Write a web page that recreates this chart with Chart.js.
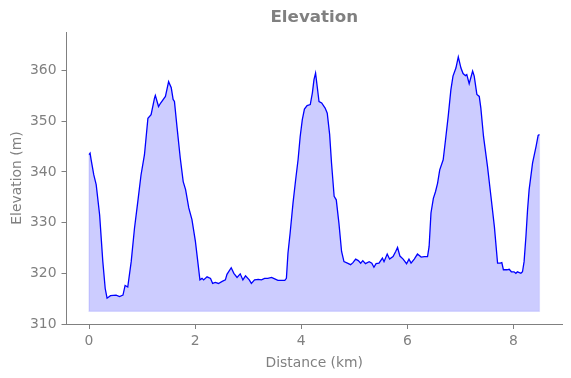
<!DOCTYPE html>
<html>
<head>
<meta charset="utf-8">
<script src="https://cdn.jsdelivr.net/npm/chart.js@4"></script>
<style>
  html, body { margin: 0; padding: 0; background: #ffffff; }
  #wrap { width: 571px; height: 378px; }
</style>
</head>
<body>
<div id="wrap"><canvas id="c" width="571" height="378"></canvas></div>
<script>
const distanceKm = [0.00,0.02,0.04,0.09,0.135,0.20,0.26,0.305,0.34,0.405,0.51,0.575,0.64,0.68,0.73,0.795,0.857,0.92,0.98,1.045,1.11,1.17,1.235,1.25,1.31,1.35,1.44,1.50,1.55,1.585,1.61,1.66,1.72,1.775,1.82,1.88,1.94,2.005,2.05,2.09,2.13,2.16,2.225,2.29,2.33,2.38,2.44,2.51,2.57,2.60,2.68,2.73,2.79,2.85,2.90,2.95,3.02,3.06,3.12,3.19,3.25,3.31,3.37,3.44,3.50,3.56,3.63,3.69,3.72,3.75,3.79,3.845,3.895,3.94,3.98,4.02,4.06,4.11,4.17,4.21,4.24,4.27,4.30,4.335,4.385,4.45,4.49,4.535,4.57,4.62,4.66,4.71,4.76,4.805,4.87,4.93,4.975,5.025,5.075,5.12,5.16,5.21,5.28,5.33,5.37,5.41,5.465,5.53,5.56,5.62,5.665,5.73,5.78,5.815,5.86,5.92,5.985,6.03,6.07,6.13,6.19,6.26,6.32,6.38,6.41,6.445,6.49,6.53,6.57,6.61,6.675,6.72,6.77,6.82,6.86,6.915,6.96,7.01,7.05,7.095,7.12,7.165,7.23,7.26,7.31,7.355,7.385,7.435,7.51,7.575,7.64,7.70,7.75,7.78,7.81,7.875,7.92,7.96,8.01,8.045,8.075,8.14,8.17,8.20,8.235,8.265,8.295,8.36,8.425,8.465,8.49];
const elevationM = [343.4,343.7,342.4,339.4,337.5,331.5,322.3,317.0,315.1,315.6,315.7,315.4,315.7,317.6,317.3,322.3,328.9,334.2,339.4,343.4,350.6,351.3,354.6,355.1,352.9,353.6,354.9,357.8,356.6,354.3,353.9,348.7,342.7,338.1,336.5,332.9,330.6,326.3,322.3,318.7,319.0,318.7,319.3,319.0,318.0,318.2,318.0,318.4,318.7,319.8,321.1,320.0,319.2,319.9,318.7,319.5,318.7,318.0,318.7,318.8,318.7,319.0,319.0,319.2,318.9,318.6,318.6,318.6,319.0,324.0,327.9,333.9,338.5,342.4,347.0,350.3,352.4,353.1,353.3,355.6,358.2,359.5,356.9,353.9,353.6,352.6,351.6,347.4,341.8,335.2,334.5,329.9,324.3,322.3,322.0,321.7,322.1,322.8,322.5,322.0,322.5,321.9,322.3,322.0,321.2,321.9,322.0,323.0,322.3,323.8,322.8,323.3,324.3,325.1,323.4,322.8,321.9,322.8,322.0,322.8,323.8,323.2,323.3,323.3,325.3,331.9,334.8,336.1,337.8,340.4,342.4,346.4,351.0,356.2,358.9,360.5,362.7,360.5,359.4,359.0,359.2,357.4,359.9,358.9,355.3,354.9,352.6,347.0,341.1,335.2,329.2,322.0,322.0,322.1,320.7,320.7,320.8,320.3,320.3,320.0,320.3,320.0,320.3,322.3,327.3,332.5,336.5,341.8,345.0,347.2,347.4];
const xTicks = [0, 2, 4, 6, 8];
const yTicks = [310, 320, 330, 340, 350, 360];
const fillBase = 312.5;

const gray = '#808080';
const tickFont = { family: '"DejaVu Sans"', size: 13.9 };

const profile = distanceKm.map((d, i) => ({ x: d, y: elevationM[i] }));
const last = distanceKm.length - 1;
const outline = [
  { x: distanceKm[0], y: elevationM[0] },
  { x: distanceKm[0], y: fillBase },
  { x: distanceKm[last], y: fillBase },
  { x: distanceKm[last], y: elevationM[last] }
];

const xSpan = distanceKm[last] - distanceKm[0];

new Chart(document.getElementById('c'), {
  type: 'line',
  data: {
    datasets: [
      {
        data: profile,
        borderColor: '#0000ff',
        borderWidth: 1.3,
        backgroundColor: 'rgba(0,0,255,0.2)',
        fill: { value: fillBase },
        pointRadius: 0,
        tension: 0,
        order: 1
      },
      {
        data: outline,
        borderColor: 'rgba(0,0,255,0.12)',
        borderWidth: 1.2,
        fill: false,
        pointRadius: 0,
        tension: 0,
        order: 2
      }
    ]
  },
  options: {
    responsive: false,
    animation: false,
    devicePixelRatio: 1,
    layout: { padding: 0 },
    plugins: {
      legend: { display: false },
      tooltip: { enabled: false },
      title: {
        display: true,
        text: 'Elevation',
        color: gray,
        fullSize: false,
        font: { family: '"DejaVu Sans"', size: 16.7, weight: 'bold', lineHeight: 1.2 },
        padding: { top: 8, bottom: 4 }
      }
    },
    scales: {
      x: {
        type: 'linear',
        min: distanceKm[0] - 0.05 * xSpan,
        max: distanceKm[last] + 0.05 * xSpan,
        afterBuildTicks: (s) => { s.ticks = xTicks.map(v => ({ value: v })); },
        afterFit: (s) => { s.height = 54; },
        grid: { drawOnChartArea: false, drawTicks: true, tickLength: 5, color: gray },
        border: { display: true, color: gray, width: 1 },
        ticks: { color: gray, font: tickFont, padding: 4, maxRotation: 0 },
        title: {
          display: true,
          text: 'Distance (km)',
          color: gray,
          font: { family: '"DejaVu Sans"', size: 13.9, lineHeight: 1.2 },
          padding: { top: 0, bottom: 6 }
        }
      },
      y: {
        type: 'linear',
        min: 310,
        max: 367.6,
        afterBuildTicks: (s) => { s.ticks = yTicks.map(v => ({ value: v })); },
        afterFit: (s) => { s.width = 66.5; },
        grid: { drawOnChartArea: false, drawTicks: true, tickLength: 5, color: gray },
        border: { display: true, color: gray, width: 1 },
        ticks: { color: gray, font: tickFont, padding: 5 },
        title: {
          display: true,
          text: 'Elevation (m)',
          color: gray,
          font: { family: '"DejaVu Sans"', size: 13.9, lineHeight: 1.2 },
          padding: { top: 9, bottom: 0 }
        }
      },
      yR: {
        type: 'linear',
        position: 'right',
        display: true,
        min: 310,
        max: 367.6,
        afterFit: (s) => { s.width = 9; },
        grid: { display: false, drawOnChartArea: false, drawTicks: false },
        border: { display: false },
        ticks: { display: false }
      }
    }
  }
});
</script>
</body>
</html>
